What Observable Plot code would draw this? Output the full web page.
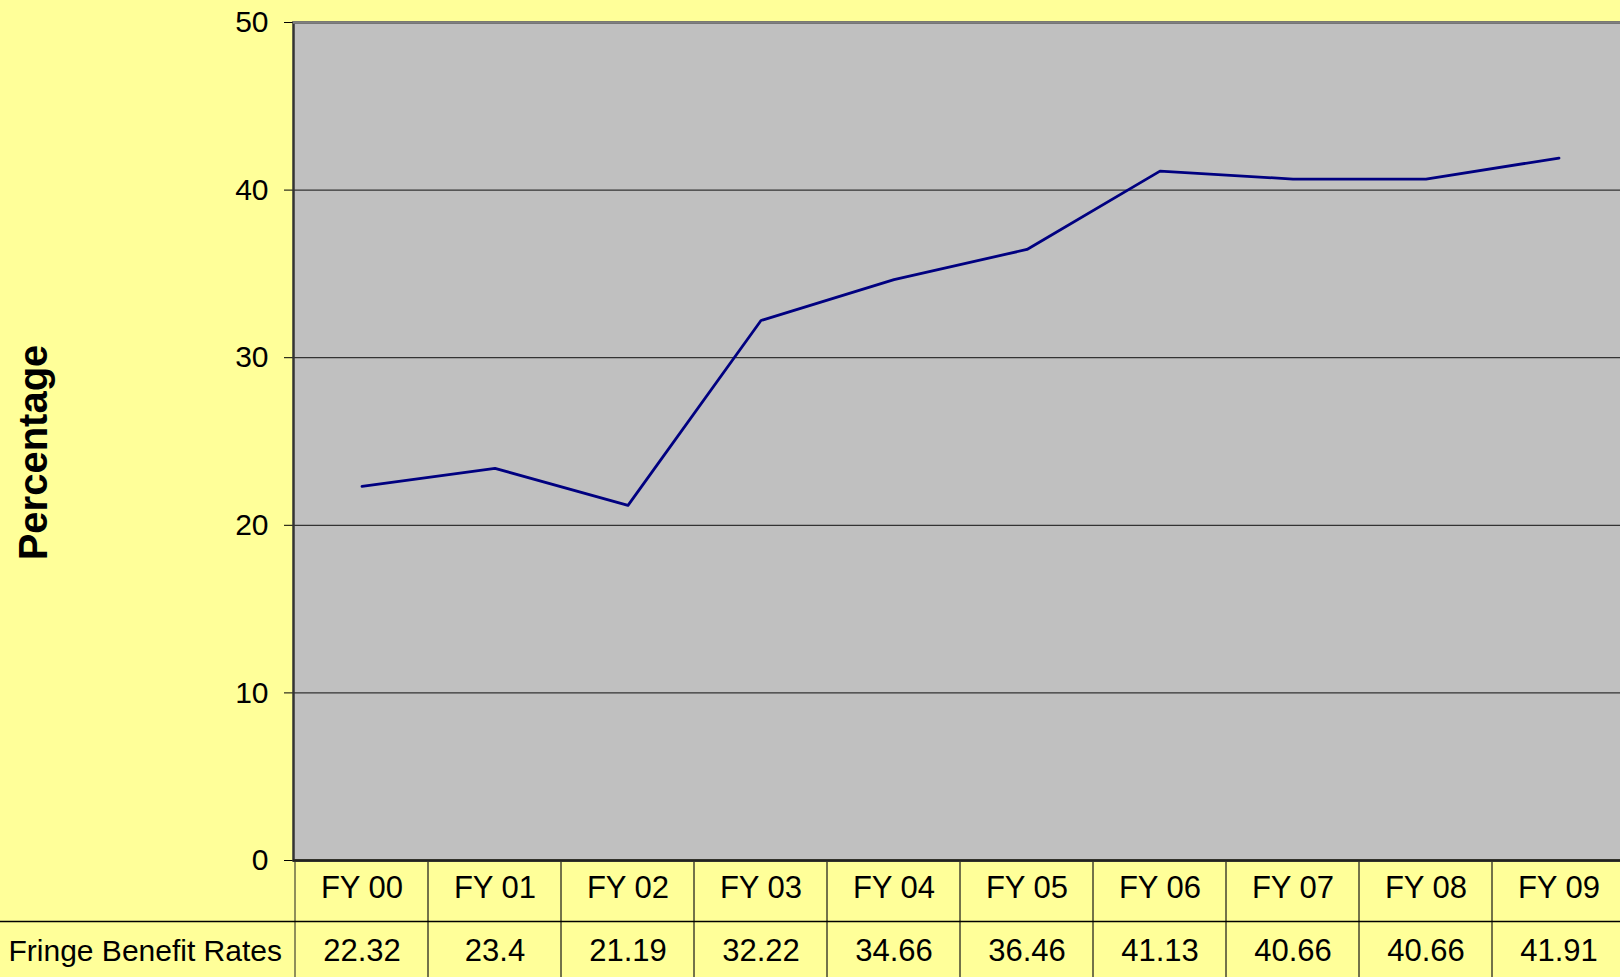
<!DOCTYPE html>
<html>
<head>
<meta charset="utf-8">
<script src="https://cdn.jsdelivr.net/npm/d3@7"></script>
<script src="https://cdn.jsdelivr.net/npm/@observablehq/plot@0.6"></script>
<style>
  html, body { margin: 0; padding: 0; background: #FFFF99; overflow: hidden; }
  #chart svg { display: block; background: #FFFF99; }
</style>
</head>
<body>
<div id="chart"></div>
<script>
const years = ["FY 00", "FY 01", "FY 02", "FY 03", "FY 04", "FY 05", "FY 06", "FY 07", "FY 08", "FY 09"];
const rates = [22.32, 23.4, 21.19, 32.22, 34.66, 36.46, 41.13, 40.66, 40.66, 41.91];
const gridValues = [10, 20, 30, 40];
const seriesName = "Fringe Benefit Rates";
const yLabel = "Percentage";

const data = years.map((fy, i) => ({fy, v: rates[i]}));
const font = "'Liberation Sans', Arial, sans-serif";

const chart = Plot.plot({
  width: 1620,
  height: 977,
  marginLeft: 293,
  marginRight: 0,
  marginTop: 22,
  marginBottom: 117,
  style: {fontFamily: font, fontSize: "30px", background: "#FFFF99", color: "#000", overflow: "visible"},
  x: {domain: years, range: [293, 1627], padding: 0, axis: null},
  y: {domain: [0, 50], ticks: 5, tickSize: 9, tickPadding: 16, label: null},
  marks: [
    Plot.frame({fill: "#C0C0C0", stroke: "#333", strokeWidth: 2.5, insetRight: -20}),
    Plot.ruleY([50], {stroke: "#808080", strokeWidth: 2.5, insetRight: -20}),
    Plot.ruleY(gridValues, {stroke: "#333", strokeWidth: 1.3}),
    // table cells
    Plot.barY(years, {x: d => d, y1: 0, y2: 0, insetBottom: -130, fill: "none", stroke: "#6b6b45", strokeWidth: 1.5}),
    Plot.ruleY([0], {stroke: "#222", strokeWidth: 2.5}),
    Plot.ruleY([0], {dy: 61, insetLeft: -293, insetRight: -20, stroke: "#000", strokeWidth: 1.5}),
    Plot.text(data, {x: "fy", y: 0, text: "fy", dy: 27.5, fontSize: 31, fill: "#000"}),
    Plot.text(data, {x: "fy", y: 0, text: d => String(d.v), dy: 91, fontSize: 31, fill: "#000"}),
    Plot.text([seriesName], {frameAnchor: "bottom-left", dx: -285, dy: 91, textAnchor: "start", lineAnchor: "middle", fontSize: 30, fill: "#000"}),
    Plot.text([yLabel], {frameAnchor: "left", dx: -259, dy: 11, rotate: -90, textAnchor: "middle", lineAnchor: "middle", fontSize: 40, fontWeight: "bold", fill: "#000"}),
    Plot.line(data, {x: "fy", y: "v", stroke: "#000080", strokeWidth: 2.8})
  ]
});
document.getElementById("chart").appendChild(chart);
</script>
</body>
</html>
